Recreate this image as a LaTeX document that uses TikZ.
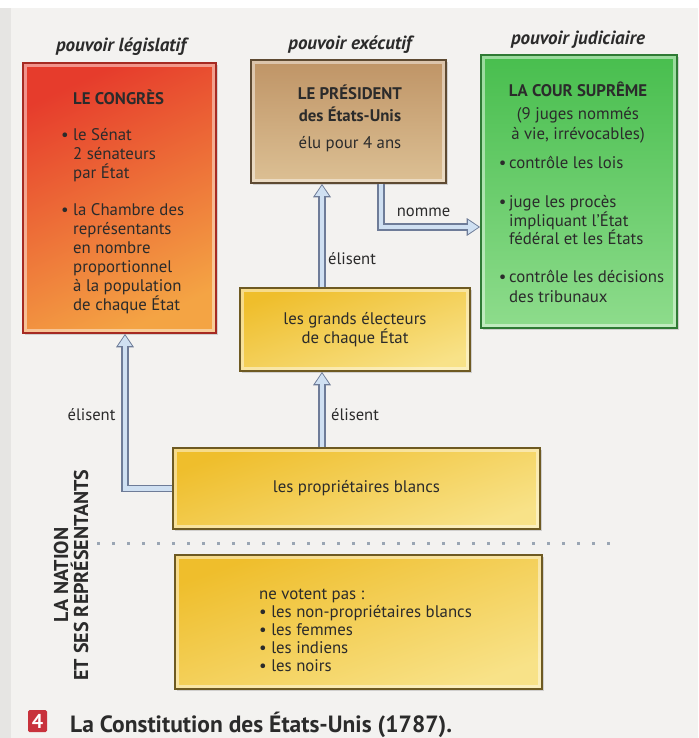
\documentclass[tikz,border=0pt]{standalone}
\usepackage{fontspec}
\setmainfont{PT Sans}
\usetikzlibrary{arrows.meta,shadows,calc}
\definecolor{page}{HTML}{F3F2F0}
\definecolor{pageedge}{HTML}{E6E5E3}
\definecolor{ink}{HTML}{2B2B2B}
\definecolor{redA}{HTML}{E63C2C}
\definecolor{redB}{HTML}{F4A444}
\definecolor{redE}{HTML}{A62A22}
\definecolor{tanA}{HTML}{BF9466}
\definecolor{tanB}{HTML}{DCC094}
\definecolor{tanE}{HTML}{5E4A32}
\definecolor{grnA}{HTML}{48BE4E}
\definecolor{grnB}{HTML}{8EDC8C}
\definecolor{grnE}{HTML}{2E7A34}
\definecolor{ylwA}{HTML}{EFBE2C}
\definecolor{ylwB}{HTML}{F8E288}
\definecolor{ylwE}{HTML}{6E5A22}
\definecolor{arrE}{HTML}{6E7C98}
\definecolor{arrF}{HTML}{CFE0F2}
\definecolor{capred}{HTML}{C8323C}
\definecolor{dotc}{HTML}{9AA6B4}
\begin{document}
\begin{tikzpicture}[x=1pt,y=-1pt,
  box/.style={rectangle, inner sep=0pt, line width=1.6pt,
    drop shadow={shadow xshift=2pt, shadow yshift=-2pt, opacity=.3},
    path picture={\draw[white, opacity=.45, line width=2.5pt]
      ([shift={(2.5pt,-2.5pt)}]path picture bounding box.north west) rectangle
      ([shift={(-2.5pt,2.5pt)}]path picture bounding box.south east);}},
  redbox/.style={box, draw=redE, top color=redA, bottom color=redB, shading angle=25},
  tanbox/.style={box, draw=tanE, top color=tanA, bottom color=tanB},
  grnbox/.style={box, draw=grnE, top color=grnA, bottom color=grnB},
  ylwbox/.style={box, draw=ylwE, top color=ylwA, bottom color=ylwB, shading angle=20,
    font=\fontsize{16.8}{19}\selectfont, text=ink, align=center},
  txt/.style={font=\fontsize{16.8}{19}\selectfont, text=ink, inner sep=0pt},
  hdr/.style={font=\bfseries\itshape\fontsize{19}{21}\selectfont, text=ink, inner sep=0pt},
  lbl/.style={font=\fontsize{16.6}{18}\selectfont, text=ink, inner sep=0pt},
  conn/.style={draw=arrF, line width=4.4pt, line join=miter, shorten >=1.6pt,
    -{Triangle[length=10.5pt, width=13pt, fill=arrF]},
    preaction={draw=arrE, line width=7.2pt, shorten >=0pt,
      -{Triangle[length=13.5pt, width=17pt, fill=arrE]}}}
]
\useasboundingbox (0,0) rectangle (698,738);
\fill[page] (0,0) rectangle (698,738);
\fill[white] (0,0) rectangle (698,8);
\fill[pageedge] (0,8) rectangle (11,738);

% headers
\node[hdr] (h1) at (121,47) {pouvoir législatif};
\node[hdr] (h2) at (350,45) {pouvoir exécutif};
\node[hdr] (h3) at (578,40) {pouvoir judiciaire};

% boxes
\node[redbox, minimum width=193pt, minimum height=270pt] (cong) at (119.5,198) {};
\node[tanbox, minimum width=195pt, minimum height=123pt] (pres) at (348.5,121.5) {};
\node[grnbox, minimum width=196pt, minimum height=273pt] (cour) at (579,191.5) {};
\node[ylwbox, minimum width=230pt, minimum height=83pt] (ge) at (355,329.5) {les grands électeurs\\ de chaque État};
\node[ylwbox, minimum width=367pt, minimum height=81pt] (prop) at (356.5,488.5) {les propriétaires blancs};
\node[ylwbox, minimum width=367pt, minimum height=134pt] (nv) at (358.5,622) {};

% box texts
\node[txt, anchor=north west, align=left] (congT) at (73,89.2)
  {\strut\textbf{LE CONGRÈS}\\[17pt]
   \llap{\textbullet\ }le Sénat\\ 2 sénateurs\\ par État\\[18pt]
   \llap{\textbullet\ }la Chambre des\\ représentants\\ en nombre\\ proportionnel\\ à la population\\ de chaque État};
\node[txt, anchor=north, align=center] (presT) at (350,84.2)
  {\strut\textbf{LE PRÉSIDENT}\\[1pt] \textbf{des États-Unis}\\[8pt] élu pour 4 ans};
\node[txt, anchor=north, align=center] (courH) at (578,81.2)
  {\strut\textbf{LA COUR SUPRÊME}\\[4pt] (9 juges nommés\\[1pt] à vie, irrévocables)};
\node[txt, anchor=north west, align=left] (courL) at (509,155.2)
  {\strut\llap{\textbullet\,}contrôle les lois\\[20pt]
   \llap{\textbullet\,}juge les procès\\ impliquant l’État\\[-1pt] fédéral et les États\\[19pt]
   \llap{\textbullet\,}contrôle les décisions\\[1pt] des tribunaux};
\node[txt, anchor=north west, align=left] (nvT) at (259,586.2)
  {\strut ne votent pas :\\[-1pt] \textbullet\ les non-propriétaires blancs\\[-1pt]
   \textbullet\ les femmes\\[-1pt] \textbullet\ les indiens\\[-1pt] \textbullet\ les noirs};

% separator
\draw[dotc, line width=3pt, dash pattern=on 3pt off 12pt] (97,543) -- (610,543);

% vertical label
\node[font=\bfseries\fontsize{20}{20}\selectfont, text=ink, rotate=90, align=center, inner sep=0pt]
  (nation) at (71,575) {LA NATION\\ ET SES REPRÉSENTANTS};

% connectors
\draw[conn] (prop.west) -| ([xshift=5.5pt]cong.south);
\draw[conn] ([xshift=-34.5pt]prop.north) -- ([xshift=-34.5pt]prop.north |- ge.south);
\draw[conn] ([xshift=-33pt]ge.north) -- ([xshift=-33pt]ge.north |- pres.south);
\draw[conn] ([xshift=32.5pt]pres.south) |- ([yshift=-35.5pt]cour.west);

% connector labels
\node[lbl] (e1) at (91.5,415) {élisent};
\node[lbl] (e2) at (355,415) {élisent};
\node[lbl] (e3) at (352,259) {élisent};
\node[lbl] (nm) at (423.5,212) {nomme};

% caption
\node[fill=capred, text=white, font=\bfseries\fontsize{20}{20}\selectfont, minimum width=19pt,
  minimum height=22pt, inner sep=0pt, rounded corners=1.5pt] (num) at (37.5,721) {4};
\node[font=\bfseries\fontsize{23.5}{26}\selectfont, anchor=west, text=ink, inner sep=0pt]
  (cap) at (70,725) {La Constitution des États-Unis (1787).};
\end{tikzpicture}
\end{document}
